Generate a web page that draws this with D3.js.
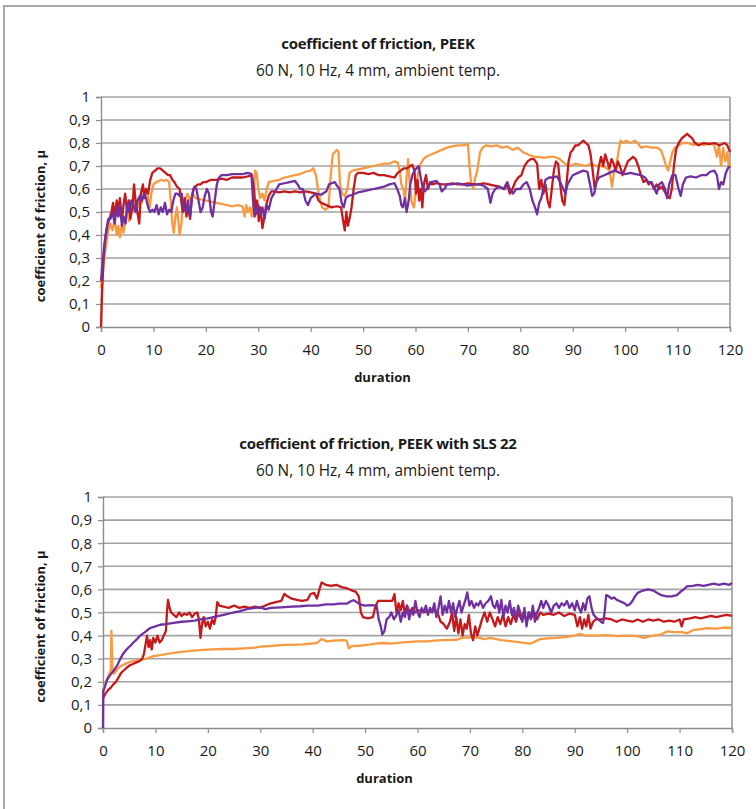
<!DOCTYPE html>
<html>
<head>
<meta charset="utf-8">
<script src="https://cdn.jsdelivr.net/npm/d3@7/dist/d3.min.js"></script>
<style>
  html, body { margin: 0; padding: 0; background: #fff; }
  svg { display: block; }
  text { font-family: "Open Sans", "Noto Sans", sans-serif; fill: #1a1a1a; }
</style>
</head>
<body>
<svg id="chart" width="756" height="809"></svg>
<script>
// Axis ticks
const xTicks = [0, 10, 20, 30, 40, 50, 60, 70, 80, 90, 100, 110, 120];
const yTicks = [0, 0.1, 0.2, 0.3, 0.4, 0.5, 0.6, 0.7, 0.8, 0.9, 1];

// Series colours
const seriesColors = { orange: "#f79a42", red: "#c5191b", purple: "#7030a0" };

// PEEK: [duration, coefficient of friction]
const peekOrange = [[0,0.17],[0.3,0.22],[0.6,0.3],[1,0.36],[1.4,0.42],[1.8,0.45],[2.2,0.42],[2.6,0.47],[3,0.4],[3.3,0.44],[3.6,0.39],[4,0.45],[4.3,0.41],[4.7,0.48],[5,0.5],[5.4,0.46],[5.8,0.52],[6.2,0.5],[6.6,0.55],[7,0.52],[7.4,0.56],[7.8,0.54],[8.2,0.58],[8.6,0.6],[9,0.56],[9.3,0.52],[9.6,0.58],[10,0.62],[10.5,0.63],[11,0.635],[11.5,0.64],[12,0.635],[12.5,0.64],[13,0.63],[13.3,0.55],[13.6,0.45],[13.9,0.41],[14.2,0.48],[14.5,0.52],[14.8,0.45],[15,0.4],[15.3,0.44],[15.6,0.53],[16,0.55],[16.5,0.58],[17,0.55],[17.5,0.58],[18,0.56],[19,0.555],[20,0.55],[21,0.545],[22,0.54],[23,0.535],[24,0.53],[25,0.525],[26,0.53],[27,0.525],[27.4,0.48],[27.7,0.53],[28,0.5],[28.4,0.52],[28.8,0.48],[29.1,0.55],[29.4,0.68],[29.7,0.67],[30,0.6],[30.4,0.56],[30.8,0.58],[31.2,0.55],[31.6,0.6],[32,0.63],[33,0.635],[34,0.64],[35,0.65],[36,0.655],[37,0.66],[38,0.665],[39,0.675],[40,0.68],[40.5,0.69],[41,0.66],[41.4,0.6],[41.8,0.55],[42.2,0.52],[42.8,0.51],[43.4,0.52],[43.8,0.65],[44.2,0.75],[44.6,0.76],[45,0.77],[45.3,0.76],[45.6,0.62],[46,0.58],[46.5,0.57],[47,0.6],[47.4,0.67],[48,0.68],[49,0.685],[50,0.69],[51,0.695],[52,0.7],[53,0.705],[54,0.71],[55,0.71],[56,0.72],[56.6,0.715],[57,0.68],[57.3,0.62],[57.7,0.6],[58,0.55],[58.3,0.65],[58.6,0.73],[58.9,0.62],[59.3,0.54],[59.7,0.52],[60.1,0.6],[60.5,0.67],[61,0.71],[61.5,0.73],[62,0.74],[63,0.75],[64,0.76],[65,0.77],[66,0.78],[67,0.785],[68,0.79],[69,0.79],[70,0.795],[70.3,0.7],[70.6,0.63],[71,0.6],[71.4,0.65],[71.8,0.68],[72.3,0.76],[72.8,0.78],[73.5,0.79],[74.5,0.785],[75.5,0.79],[76.5,0.78],[77.5,0.785],[78.5,0.77],[79.5,0.78],[80.5,0.76],[81.5,0.75],[82.5,0.74],[83.5,0.74],[84.5,0.735],[85.5,0.74],[86.5,0.74],[87.5,0.73],[88.5,0.71],[89.5,0.7],[90.5,0.71],[91.5,0.705],[92.5,0.7],[93.5,0.71],[94.5,0.7],[95.5,0.7],[96.5,0.69],[97,0.68],[97.5,0.61],[97.9,0.68],[98.3,0.7],[98.7,0.76],[99.1,0.81],[99.6,0.8],[100.2,0.81],[101,0.8],[101.8,0.81],[102.4,0.8],[103,0.78],[104,0.785],[105,0.78],[106,0.78],[106.8,0.77],[107.3,0.74],[107.8,0.7],[108.2,0.68],[108.6,0.72],[109,0.76],[109.5,0.78],[110.2,0.79],[111,0.8],[112,0.8],[113,0.79],[114,0.8],[115,0.79],[116,0.8],[117,0.79],[117.5,0.74],[117.9,0.79],[118.3,0.7],[118.7,0.78],[119.1,0.72],[119.5,0.76],[119.8,0.69],[120,0.71]];

const peekRed = [[0,0],[0.2,0.15],[0.5,0.3],[0.8,0.38],[1.2,0.44],[1.6,0.47],[2,0.5],[2.3,0.54],[2.6,0.48],[3,0.55],[3.3,0.5],[3.6,0.56],[4,0.47],[4.3,0.53],[4.6,0.58],[5,0.5],[5.3,0.55],[5.6,0.47],[6,0.52],[6.3,0.62],[6.6,0.55],[7,0.49],[7.3,0.45],[7.6,0.58],[8,0.62],[8.3,0.56],[8.6,0.6],[9,0.58],[9.4,0.64],[9.8,0.67],[10.3,0.68],[10.8,0.69],[11.3,0.69],[11.8,0.68],[12.3,0.67],[12.8,0.66],[13.2,0.66],[13.6,0.64],[14,0.63],[14.5,0.61],[15,0.6],[15.3,0.55],[15.6,0.5],[16,0.56],[16.3,0.48],[16.6,0.52],[17,0.47],[17.3,0.56],[17.6,0.6],[18,0.61],[18.5,0.62],[19,0.62],[19.5,0.63],[20,0.63],[21,0.64],[22,0.64],[23,0.645],[24,0.64],[25,0.65],[26,0.65],[27,0.65],[28,0.655],[28.8,0.66],[29.2,0.6],[29.5,0.5],[29.8,0.55],[30.1,0.46],[30.4,0.52],[30.8,0.43],[31.1,0.47],[31.5,0.53],[32,0.57],[32.5,0.59],[33,0.59],[34,0.585],[35,0.59],[36,0.585],[37,0.59],[38,0.585],[39,0.59],[40,0.585],[41,0.58],[41.5,0.55],[42,0.54],[43,0.53],[44,0.52],[45,0.525],[45.8,0.52],[46.2,0.46],[46.5,0.42],[46.8,0.5],[47.1,0.44],[47.5,0.48],[47.8,0.52],[48.2,0.6],[48.6,0.66],[49,0.67],[50,0.67],[51,0.665],[52,0.67],[53,0.66],[54,0.66],[55,0.655],[56,0.65],[56.6,0.67],[57.2,0.68],[57.8,0.69],[58.4,0.69],[59,0.7],[59.4,0.705],[59.8,0.68],[60.1,0.58],[60.4,0.64],[60.7,0.55],[61,0.6],[61.3,0.52],[61.6,0.62],[62,0.66],[62.4,0.6],[62.8,0.63],[63.2,0.62],[64,0.625],[65,0.62],[66,0.62],[67,0.625],[68,0.62],[69,0.62],[70,0.625],[71,0.62],[72,0.62],[73,0.625],[74,0.62],[75,0.615],[76,0.61],[77,0.6],[77.5,0.62],[78,0.58],[78.5,0.6],[79,0.63],[79.6,0.65],[80.2,0.66],[80.8,0.7],[81.4,0.72],[82,0.73],[82.6,0.73],[83.2,0.71],[83.6,0.6],[84,0.64],[84.4,0.58],[84.8,0.62],[85.2,0.55],[85.6,0.52],[86,0.6],[86.4,0.68],[86.8,0.72],[87.2,0.71],[87.6,0.62],[88,0.55],[88.4,0.53],[88.8,0.62],[89.2,0.72],[89.6,0.76],[90,0.77],[90.5,0.79],[91,0.79],[91.5,0.8],[92,0.81],[92.5,0.8],[93,0.79],[93.4,0.75],[93.8,0.68],[94.2,0.6],[94.6,0.64],[95,0.7],[95.4,0.74],[95.8,0.7],[96.2,0.75],[96.6,0.72],[97,0.69],[97.4,0.73],[97.8,0.71],[98.2,0.68],[98.6,0.72],[99,0.7],[99.5,0.66],[100,0.69],[100.5,0.72],[101,0.73],[101.5,0.74],[102,0.73],[102.5,0.7],[103,0.66],[103.5,0.63],[104,0.64],[104.5,0.62],[105,0.63],[105.5,0.6],[106,0.62],[106.5,0.6],[107,0.61],[107.5,0.59],[108,0.57],[108.5,0.56],[108.9,0.6],[109.3,0.7],[109.7,0.77],[110.2,0.8],[110.8,0.82],[111.3,0.83],[111.8,0.84],[112.3,0.83],[112.8,0.82],[113.3,0.8],[114,0.79],[115,0.8],[116,0.795],[117,0.8],[118,0.79],[119,0.8],[119.5,0.79],[120,0.76]];

const peekPurple = [[0,0.2],[0.3,0.28],[0.6,0.35],[1,0.42],[1.4,0.47],[1.8,0.47],[2.2,0.5],[2.6,0.45],[3,0.52],[3.3,0.48],[3.6,0.53],[4,0.44],[4.3,0.48],[4.7,0.45],[5,0.54],[5.4,0.5],[5.8,0.55],[6.2,0.53],[6.6,0.5],[7,0.55],[7.4,0.57],[7.8,0.55],[8.2,0.58],[8.6,0.56],[9,0.52],[9.4,0.5],[9.8,0.51],[10.2,0.5],[10.6,0.53],[11,0.49],[11.4,0.52],[11.8,0.5],[12.2,0.54],[12.6,0.49],[13,0.51],[13.4,0.5],[13.8,0.55],[14.2,0.58],[14.6,0.58],[15,0.57],[15.4,0.58],[15.8,0.52],[16.2,0.5],[16.6,0.55],[17,0.48],[17.4,0.57],[17.8,0.61],[18.2,0.6],[18.6,0.55],[19,0.5],[19.4,0.52],[19.8,0.57],[20.2,0.6],[20.6,0.58],[21,0.5],[21.3,0.48],[21.7,0.55],[22.1,0.62],[22.5,0.65],[23,0.66],[24,0.66],[25,0.665],[26,0.665],[27,0.665],[28,0.67],[28.7,0.665],[29,0.55],[29.3,0.48],[29.7,0.5],[30,0.53],[30.4,0.49],[30.8,0.52],[31.2,0.47],[31.6,0.53],[32,0.51],[32.5,0.56],[33,0.58],[33.5,0.6],[34,0.62],[35,0.625],[36,0.63],[37,0.635],[37.5,0.62],[38,0.6],[38.5,0.6],[39,0.55],[39.5,0.53],[40,0.56],[40.5,0.57],[41,0.58],[42,0.575],[43,0.59],[43.5,0.62],[44,0.625],[44.6,0.63],[45,0.615],[45.5,0.6],[45.9,0.54],[46.3,0.52],[46.7,0.56],[47.2,0.57],[48,0.575],[49,0.585],[50,0.59],[51,0.595],[52,0.6],[53,0.605],[54,0.61],[55,0.62],[56,0.625],[56.5,0.6],[57,0.57],[57.3,0.53],[57.6,0.52],[58,0.56],[58.3,0.5],[58.7,0.55],[59,0.62],[59.4,0.66],[59.8,0.68],[60.2,0.69],[60.6,0.7],[61,0.65],[61.4,0.6],[61.8,0.59],[62.4,0.61],[63,0.63],[64,0.635],[64.6,0.62],[65,0.59],[65.5,0.6],[66,0.62],[67,0.62],[68,0.625],[69,0.62],[70,0.615],[71,0.62],[72,0.62],[73,0.615],[73.8,0.6],[74.3,0.54],[74.7,0.58],[75.2,0.6],[76,0.61],[76.8,0.6],[77.5,0.63],[78,0.6],[78.6,0.58],[79.2,0.6],[80,0.6],[80.6,0.62],[81.2,0.63],[81.8,0.6],[82.3,0.55],[82.8,0.52],[83.2,0.49],[83.6,0.54],[84,0.56],[84.4,0.6],[84.8,0.64],[85.5,0.65],[86.2,0.65],[87,0.655],[87.6,0.63],[88.2,0.6],[88.6,0.58],[89,0.62],[89.5,0.64],[90,0.66],[91,0.67],[92,0.68],[92.8,0.675],[93.3,0.62],[93.7,0.57],[94.1,0.58],[94.5,0.63],[95,0.65],[96,0.66],[97,0.67],[98,0.68],[99,0.67],[100,0.665],[101,0.67],[102,0.665],[103,0.66],[103.8,0.65],[104.4,0.63],[105,0.63],[105.6,0.6],[106,0.58],[106.5,0.62],[107,0.63],[107.6,0.6],[108,0.56],[108.4,0.62],[109,0.66],[109.6,0.66],[110.2,0.6],[110.6,0.57],[111,0.62],[111.6,0.65],[112.5,0.655],[113.5,0.65],[114.5,0.66],[115.5,0.66],[116.2,0.675],[117,0.68],[117.5,0.66],[117.9,0.6],[118.3,0.63],[118.7,0.62],[119.2,0.67],[119.6,0.69],[120,0.7]];

// PEEK with SLS 22: [duration, coefficient of friction]
const slsOrange = [[0,0.16],[0.4,0.19],[0.8,0.215],[1.2,0.235],[1.5,0.25],[1.6,0.42],[1.8,0.26],[2.1,0.235],[2.6,0.25],[3.2,0.265],[4,0.275],[5,0.285],[5.8,0.29],[7,0.295],[8.3,0.3],[9.5,0.31],[10.9,0.315],[12,0.32],[13.5,0.325],[15,0.33],[17.2,0.335],[19,0.338],[21,0.34],[23,0.342],[25,0.342],[27,0.345],[29,0.348],[30,0.352],[32,0.355],[34.4,0.36],[36,0.36],[38.2,0.362],[40.8,0.368],[41.7,0.385],[42.7,0.375],[44,0.378],[45.9,0.38],[46.5,0.378],[46.9,0.345],[47.5,0.355],[49,0.356],[50.4,0.36],[52,0.365],[53.5,0.368],[55,0.365],[56.7,0.37],[58,0.372],[60,0.375],[62,0.375],[63.1,0.378],[65,0.38],[67.5,0.382],[68.5,0.39],[70,0.392],[72,0.39],[72.6,0.385],[74,0.39],[75,0.385],[76,0.38],[78,0.375],[80,0.37],[81.5,0.365],[82.5,0.375],[83.4,0.385],[85,0.388],[86.5,0.39],[88.5,0.395],[90,0.4],[91,0.408],[92,0.4],[94,0.4],[96,0.402],[98,0.398],[100,0.4],[102,0.398],[103.1,0.39],[104.5,0.398],[106.3,0.404],[107.6,0.418],[108.9,0.415],[110.5,0.415],[111.4,0.41],[112.7,0.425],[114,0.428],[115.2,0.432],[117,0.43],[118.5,0.435],[120,0.433]];

const slsRed = [[0,0.13],[0.5,0.15],[1,0.165],[1.5,0.175],[2,0.19],[2.5,0.2],[3,0.22],[3.5,0.24],[4,0.25],[4.5,0.26],[5,0.27],[5.5,0.275],[6,0.28],[6.5,0.285],[7,0.29],[7.5,0.3],[7.8,0.32],[8.1,0.36],[8.4,0.4],[8.7,0.35],[9,0.38],[9.3,0.34],[9.6,0.39],[10,0.37],[10.4,0.4],[10.8,0.37],[11.2,0.38],[11.6,0.4],[12,0.42],[12.2,0.5],[12.4,0.555],[12.7,0.52],[13,0.5],[13.5,0.49],[14,0.48],[14.5,0.5],[15,0.485],[15.5,0.495],[16,0.49],[16.5,0.5],[17,0.48],[17.5,0.495],[18,0.5],[18.3,0.47],[18.6,0.39],[18.9,0.45],[19.2,0.48],[19.6,0.44],[20,0.46],[20.4,0.43],[20.8,0.47],[21.2,0.45],[21.5,0.48],[21.8,0.545],[22.2,0.53],[23,0.525],[24,0.52],[25,0.53],[26,0.52],[27,0.525],[28,0.52],[29,0.525],[30,0.52],[31,0.53],[32,0.54],[33,0.545],[34,0.55],[34.6,0.58],[35.2,0.57],[36,0.56],[37,0.555],[38,0.55],[39,0.555],[39.6,0.58],[40.3,0.585],[40.8,0.56],[41.3,0.6],[41.7,0.63],[42.5,0.62],[43.5,0.615],[44.5,0.62],[45.5,0.61],[46.5,0.605],[47.5,0.595],[48.2,0.59],[48.8,0.57],[49.2,0.5],[49.6,0.48],[50.5,0.475],[51.5,0.48],[52,0.53],[52.5,0.55],[53.5,0.55],[54.5,0.55],[55.2,0.55],[55.6,0.58],[56,0.5],[56.4,0.54],[56.8,0.51],[57.2,0.55],[57.6,0.49],[58,0.53],[58.5,0.5],[59,0.52],[59.5,0.5],[60,0.51],[61,0.505],[62,0.5],[63,0.51],[63.8,0.5],[64.4,0.46],[65,0.45],[65.6,0.43],[66.2,0.46],[66.6,0.5],[67,0.42],[67.4,0.48],[67.8,0.41],[68.2,0.47],[68.6,0.4],[69,0.45],[69.4,0.43],[69.8,0.49],[70.2,0.41],[70.6,0.38],[71,0.44],[71.4,0.4],[71.8,0.43],[72.3,0.47],[72.8,0.5],[73.3,0.46],[73.8,0.5],[74.3,0.47],[74.8,0.44],[75.3,0.48],[75.8,0.45],[76.3,0.49],[76.8,0.44],[77.3,0.48],[77.8,0.45],[78.3,0.49],[78.8,0.46],[79.3,0.5],[79.8,0.47],[80.3,0.5],[80.8,0.46],[81.3,0.5],[81.8,0.48],[82.3,0.5],[82.8,0.47],[83.4,0.5],[84,0.49],[85,0.495],[86,0.49],[87,0.5],[88,0.485],[89,0.495],[90,0.49],[90.5,0.44],[91,0.48],[91.4,0.43],[91.8,0.47],[92.2,0.44],[92.6,0.49],[93,0.43],[93.5,0.46],[94,0.47],[95,0.47],[96,0.475],[97,0.47],[98,0.46],[99,0.47],[100,0.465],[101,0.46],[102,0.47],[103,0.46],[104,0.47],[105,0.465],[106,0.47],[107,0.46],[108,0.465],[109,0.46],[110,0.47],[110.4,0.44],[110.8,0.47],[112,0.475],[113,0.48],[114,0.475],[115,0.48],[116,0.485],[117,0.48],[118,0.485],[119,0.49],[120,0.485]];

const slsPurple = [[0,0],[0.05,0.16],[0.3,0.175],[0.8,0.21],[1.4,0.23],[2.1,0.25],[2.7,0.27],[3.2,0.295],[3.8,0.32],[4.5,0.34],[5.2,0.355],[5.8,0.37],[6.5,0.385],[7.1,0.4],[8,0.415],[9,0.433],[10,0.44],[10.9,0.447],[12,0.45],[13.5,0.455],[15,0.46],[16.1,0.462],[17.5,0.465],[18.5,0.47],[20,0.475],[21.7,0.483],[23,0.49],[24.9,0.5],[26,0.505],[27.4,0.515],[29,0.52],[30,0.522],[31,0.515],[32,0.52],[34,0.522],[36,0.525],[37.6,0.527],[39,0.53],[41,0.53],[42.5,0.535],[44,0.535],[45,0.538],[46.5,0.538],[47.2,0.548],[47.8,0.553],[48.4,0.545],[49,0.535],[50,0.53],[51,0.532],[52.2,0.53],[52.6,0.47],[53,0.44],[53.3,0.405],[53.7,0.42],[54.1,0.47],[54.6,0.48],[55,0.5],[55.5,0.47],[56,0.49],[56.4,0.51],[56.8,0.46],[57.2,0.5],[57.6,0.48],[58,0.53],[58.4,0.47],[58.8,0.51],[59.2,0.49],[59.6,0.55],[60,0.5],[60.4,0.48],[60.8,0.52],[61.2,0.5],[61.6,0.53],[62,0.49],[62.4,0.52],[62.8,0.5],[63.2,0.54],[63.6,0.48],[64,0.52],[64.4,0.57],[64.8,0.49],[65.2,0.53],[65.6,0.5],[66,0.55],[66.4,0.5],[66.8,0.54],[67.2,0.48],[67.6,0.52],[68,0.55],[68.4,0.5],[68.8,0.53],[69.2,0.56],[69.5,0.587],[69.9,0.53],[70.3,0.55],[70.8,0.52],[71.2,0.54],[71.6,0.53],[72,0.55],[72.5,0.52],[73,0.54],[73.5,0.55],[74,0.57],[74.4,0.53],[74.8,0.52],[75.2,0.55],[75.6,0.5],[76,0.555],[76.4,0.48],[76.8,0.53],[77.2,0.5],[77.6,0.55],[78,0.49],[78.4,0.52],[78.8,0.47],[79.2,0.53],[79.6,0.5],[80,0.46],[80.4,0.52],[80.8,0.44],[81.2,0.5],[81.6,0.47],[82,0.53],[82.4,0.46],[82.8,0.5],[83.2,0.52],[83.6,0.55],[84,0.52],[84.5,0.55],[85,0.53],[85.5,0.5],[86,0.53],[86.5,0.54],[87,0.52],[87.5,0.54],[88,0.53],[88.5,0.55],[89,0.52],[89.5,0.54],[90,0.51],[90.4,0.55],[90.8,0.52],[91.2,0.5],[91.6,0.54],[92,0.51],[92.4,0.56],[92.8,0.57],[93.2,0.52],[93.6,0.49],[94,0.48],[94.5,0.47],[95,0.46],[95.4,0.455],[95.7,0.5],[96,0.575],[96.5,0.57],[97,0.56],[97.5,0.565],[98,0.555],[98.5,0.55],[99,0.545],[99.5,0.54],[100,0.53],[100.5,0.535],[101,0.55],[101.5,0.57],[102,0.585],[102.5,0.59],[103,0.595],[104,0.6],[105,0.595],[105.7,0.585],[106.5,0.575],[107.5,0.57],[108.5,0.57],[109.5,0.575],[110.2,0.59],[110.8,0.6],[111.4,0.613],[112.5,0.615],[113.5,0.62],[114.5,0.615],[115.5,0.62],[116.5,0.625],[117.5,0.62],[118.5,0.625],[119.5,0.62],[120,0.628]];

const subtitle = "60 N, 10 Hz, 4 mm, ambient temp.";
const yTitle = "coefficient of friction, \u00b5";
const xTitle = "duration";

const panels = [
  { title: "coefficient of friction, PEEK", plot: { left: 101, right: 730, top: 97, bottom: 327 },
    series: [ { data: peekOrange, color: seriesColors.orange }, { data: peekRed, color: seriesColors.red }, { data: peekPurple, color: seriesColors.purple } ] },
  { title: "coefficient of friction, PEEK with SLS 22", plot: { left: 103, right: 732, top: 497, bottom: 728 },
    series: [ { data: slsOrange, color: seriesColors.orange }, { data: slsRed, color: seriesColors.red }, { data: slsPurple, color: seriesColors.purple } ] }
];

const svg = d3.select("#chart");
svg.append("rect").attr("width", 756).attr("height", 809).attr("fill", "#fff");
// outer frame
svg.append("rect").attr("x", 4).attr("y", 6).attr("width", 800).attr("height", 850)
  .attr("fill", "none").attr("stroke", "#a9a9a9").attr("stroke-width", 2);

const fmtY = d => d === 0 || d === 1 ? String(d) : d3.format(".1f")(d).replace(".", ",");

panels.forEach(p => {
  const g = svg.append("g");
  const x = d3.scaleLinear().domain([0, 120]).range([p.plot.left, p.plot.right]);
  const y = d3.scaleLinear().domain([0, 1]).range([p.plot.bottom, p.plot.top]);
  const cx = 378;

  g.append("text").attr("x", cx).attr("y", p.plot.top - 48).attr("text-anchor", "middle")
    .attr("font-size", 15).attr("font-weight", "bold").attr("letter-spacing", "-0.3").text(p.title);
  g.append("text").attr("x", cx).attr("y", p.plot.top - 21).attr("text-anchor", "middle")
    .attr("font-size", 15.4).text(subtitle);

  // horizontal gridlines
  g.append("g").selectAll("line").data(yTicks.filter(d => d > 0)).join("line")
    .attr("x1", p.plot.left).attr("x2", p.plot.right)
    .attr("y1", d => y(d)).attr("y2", d => y(d))
    .attr("stroke", "#a3a3a3").attr("stroke-width", 1.6);
  // right border
  g.append("line").attr("x1", p.plot.right).attr("x2", p.plot.right)
    .attr("y1", p.plot.top).attr("y2", p.plot.bottom)
    .attr("stroke", "#8c8c8c").attr("stroke-width", 1.4);

  // y axis
  const yAxis = g.append("g").attr("transform", `translate(${p.plot.left},0)`)
    .call(d3.axisLeft(y).tickValues(yTicks).tickFormat(fmtY).tickSize(5).tickPadding(6));
  // x axis
  const xAxis = g.append("g").attr("transform", `translate(0,${p.plot.bottom})`)
    .call(d3.axisBottom(x).tickValues(xTicks).tickSize(5).tickPadding(12));
  [yAxis, xAxis].forEach(a => {
    a.select(".domain").attr("stroke", "#8c8c8c").attr("stroke-width", 1.4);
    a.selectAll(".tick line").attr("stroke", "#8c8c8c").attr("stroke-width", 1.2);
    a.selectAll(".tick text").attr("font-size", 15).attr("fill", "#1a1a1a")
      .attr("font-family", "'Open Sans', sans-serif");
  });

  g.append("text").attr("x", (p.plot.left + p.plot.right) / 2 - 33).attr("y", p.plot.bottom + 55)
    .attr("text-anchor", "middle").attr("font-size", 13).attr("font-weight", "bold").text(xTitle);
  g.append("text").attr("transform", `translate(45,${(p.plot.top + p.plot.bottom) / 2 + 14}) rotate(-90)`)
    .attr("text-anchor", "middle").attr("font-size", 13).attr("font-weight", "bold").text(yTitle);

  const line = d3.line().x(d => x(d[0])).y(d => y(d[1]));
  p.series.forEach(s => {
    g.append("path").datum(s.data).attr("d", line)
      .attr("fill", "none").attr("stroke", s.color).attr("stroke-width", 2.3)
      .attr("stroke-linejoin", "round");
  });
});
</script>
</body>
</html>
